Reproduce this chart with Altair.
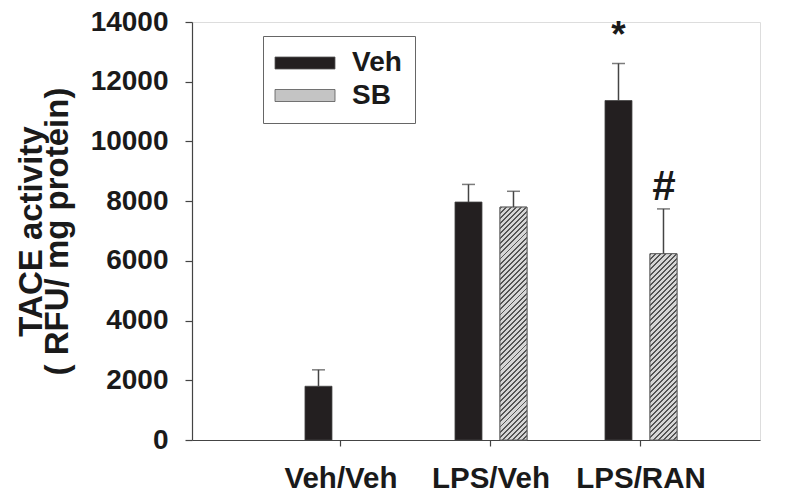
import math
import altair as alt
import pandas as pd

# ---- data ----
groups = ["Veh/Veh", "LPS/Veh", "LPS/RAN"]
treatments = ["Veh", "SB"]
veh_mean = [1800, 7970, 11370]
veh_err = [2350, 8560, 12610]
sb_mean = [None, 7800, 6240]
sb_err = [None, 8330, 7740]
ann_group = ["LPS/RAN", "LPS/RAN"]
ann_treat = ["Veh", "SB"]
ann_text = ["*", "#"]

rows = []
for g, m, e in zip(groups, veh_mean, veh_err):
    rows.append({"group": g, "treat": "Veh", "mean": m, "err": e})
for g, m, e in zip(groups, sb_mean, sb_err):
    if m is not None:
        rows.append({"group": g, "treat": "SB", "mean": m, "err": e})
df = pd.DataFrame(rows)

ann = pd.DataFrame({"group": ann_group, "treat": ann_treat, "text": ann_text})
ann = ann.merge(df[["group", "treat", "err"]], on=["group", "treat"])

FONT = "Liberation Sans"
W, H = 568, 418
YMAX = 14000
BAR_W = 27

x_enc = alt.X("group:N", sort=groups,
              scale=alt.Scale(paddingInner=0, paddingOuter=0.3933, align=0.627),
              axis=alt.Axis(title=None, labelAngle=0, labelFont=FONT, labelFontSize=29.5,
                            labelFontWeight="bold", labelColor="#1a1a1a", tickSize=6,
                            labelPadding=18, domainColor="#444", tickColor="#444",
                            domainWidth=1.2, tickWidth=1.2, grid=False))
xo_enc = alt.XOffset("treat:N", sort=treatments,
                     scale=alt.Scale(domain=treatments, paddingInner=0.4, paddingOuter=0.8667))
y_scale = alt.Scale(domain=[0, YMAX], nice=False, zero=True)
y_enc = alt.Y("mean:Q", scale=y_scale,
              axis=alt.Axis(title=["TACE activity", "( RFU/ mg protein)"],
                            values=list(range(0, 14001, 2000)), format="d",
                            labelFont=FONT, labelFontSize=28, labelFontWeight="bold",
                            labelColor="#1a1a1a", tickSize=7, labelPadding=17,
                            titleFont=FONT, titleFontSize=33, titleFontWeight="bold",
                            titleColor="#1a1a1a", titleLineHeight=26, titlePadding=16,
                            domainColor="#444", tickColor="#444", domainWidth=1.2,
                            tickWidth=1.2, grid=False))

legend = alt.Legend(title=None, orient="none", legendX=71, legendY=14,
                    direction="vertical", symbolType="M-5,-1H5V1H-5Z", symbolSize=144,
                    symbolOffset=15, labelOffset=33, labelFont=FONT, labelFontSize=28,
                    labelFontWeight="bold", labelColor="#1a1a1a", strokeColor="#666",
                    padding=13, rowPadding=4.5, symbolStrokeWidth=0.8,
                    symbolStrokeColor="#555", symbolOpacity=1)

base = alt.Chart(df)

bars = base.mark_bar(stroke="#444", strokeWidth=0.8, opacity=1).encode(
    x=x_enc, xOffset=xo_enc, y=y_enc,
    color=alt.Color("treat:N", sort=treatments,
                    scale=alt.Scale(domain=treatments, range=["#231f20", "#c4c4c4"]),
                    legend=legend),
)


def hatch(value):
    """Diagonal '///' hatch as a striped linear gradient (bounding-box units)."""
    h = value * H / YMAX
    r = BAR_W / h
    c = (r + 1) / (r * r + 1)
    length = (BAR_W + h) / math.sqrt(2)
    period = 3.6 / length
    dark = 1.4 / length
    stops = []
    k = 0
    while k * period < 1:
        o0 = k * period
        o1 = min(1, o0 + dark)
        o2 = min(1, o0 + period)
        stops += [{"offset": o0, "color": "#555555"}, {"offset": o1, "color": "#555555"},
                  {"offset": o1, "color": "#d6d6d6"}, {"offset": o2, "color": "#d6d6d6"}]
        k += 1
    return alt.LinearGradient(gradient="linear", x1=0, y1=0, x2=r * c, y2=c, stops=stops)


hatch_layers = []
for g, m in zip(groups, sb_mean):
    if m is None:
        continue
    hatch_layers.append(
        base.transform_filter((alt.datum.group == g) & (alt.datum.treat == "SB"))
        .mark_bar(fill=hatch(m), stroke="#666", strokeWidth=1, opacity=1)
        .encode(x=alt.X("group:N", sort=groups), xOffset=alt.XOffset("treat:N", sort=treatments),
                y=alt.Y("mean:Q"))
    )

err_rule = base.mark_rule(color="#444", strokeWidth=1.5).encode(
    x=alt.X("group:N", sort=groups), xOffset=alt.XOffset("treat:N", sort=treatments),
    y=alt.Y("mean:Q"), y2="err:Q")
err_cap = base.mark_tick(color="#444", thickness=1.5, size=13, orient="horizontal").encode(
    x=alt.X("group:N", sort=groups), xOffset=alt.XOffset("treat:N", sort=treatments),
    y=alt.Y("err:Q"))

star = alt.Chart(ann).transform_filter(alt.datum.text == "*").mark_text(
    font=FONT, fontSize=37, fontWeight="bold", color="#1a1a1a", baseline="alphabetic",
    dy=-17).encode(x=alt.X("group:N", sort=groups),
                   xOffset=alt.XOffset("treat:N", sort=treatments),
                   y=alt.Y("err:Q"), text="text:N")
hashm = alt.Chart(ann).transform_filter(alt.datum.text == "#").mark_text(
    font=FONT, fontSize=42, fontWeight="bold", fontStyle="italic", color="#1a1a1a",
    baseline="alphabetic", dy=-9).encode(x=alt.X("group:N", sort=groups),
                                          xOffset=alt.XOffset("treat:N", sort=treatments),
                                          y=alt.Y("err:Q"), text="text:N")

chart = alt.layer(bars, *hatch_layers, err_rule, err_cap, star, hashm).properties(
    width=W, height=H,
    autosize=alt.AutoSizeParams(type="none"),
    padding={"left": 184, "top": 14, "right": 32, "bottom": 58},
).configure_view(stroke=None).configure(background="white")

chart.save("out.html", embed_options={"renderer": "svg", "actions": False})
